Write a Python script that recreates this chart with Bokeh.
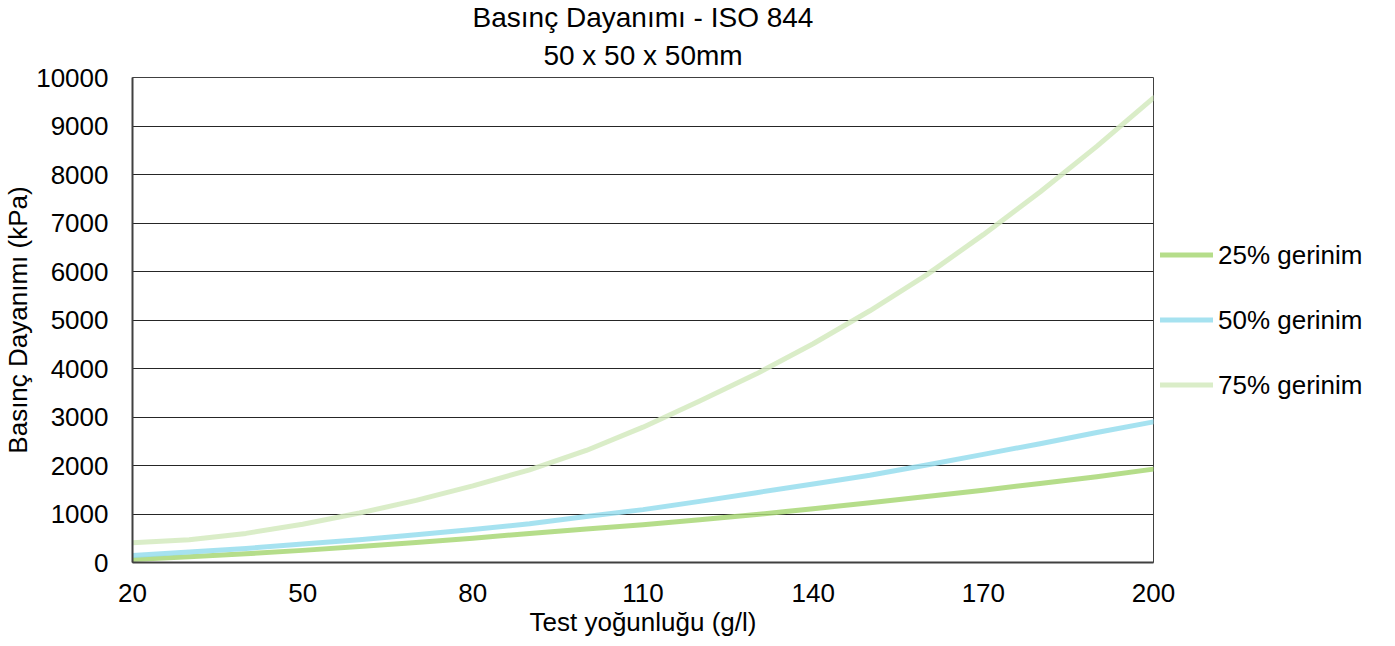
from bokeh.plotting import figure
from bokeh.models import FixedTicker, Legend, LegendItem, Title
from bokeh.embed import file_html
from bokeh.resources import INLINE

# ---- data ----
density = [20, 30, 40, 50, 60, 70, 80, 90, 100, 110, 120, 130, 140, 150, 160, 170, 180, 190, 200]
strain_25 = [60, 120, 180, 250, 330, 410, 500, 600, 690, 780, 880, 990, 1110, 1230, 1360, 1490, 1630, 1770, 1925]
strain_50 = [145, 215, 290, 380, 470, 570, 680, 800, 950, 1090, 1260, 1440, 1620, 1800, 2010, 2230, 2450, 2680, 2900]
strain_75 = [405, 470, 600, 790, 1020, 1280, 1580, 1910, 2310, 2790, 3330, 3890, 4510, 5190, 5930, 6760, 7640, 8580, 9580]
series_names = ["25% gerinim", "50% gerinim", "75% gerinim"]
x_ticks = [20, 50, 80, 110, 140, 170, 200]
y_ticks = [0, 1000, 2000, 3000, 4000, 5000, 6000, 7000, 8000, 9000, 10000]
title_lines = ["Basınç Dayanımı - ISO 844", "50 x 50 x 50mm"]
x_label = "Test yoğunluğu (g/l)"
y_label = "Basınç Dayanımı (kPa)"

colors = ["#a8d775", "#97dded", "#d3eabe"]
FONT = "Liberation Sans"

FW, FH = 1021, 485
p = figure(frame_width=FW, frame_height=FH, output_backend="svg", toolbar_location=None,
           x_range=(20, 200), y_range=(0, 10000),
           min_border_left=124, min_border_right=0, min_border_top=69, min_border_bottom=70)

p.background_fill_color = "white"
p.border_fill_color = "white"
p.outline_line_color = "#404040"
p.outline_line_width = 1

# titles (added nearest-to-plot first)
t2 = Title(text=title_lines[1], align="center", text_font=FONT, text_font_size="28px",
           text_font_style="normal", text_color="#000000", standoff=13)
t1 = Title(text=title_lines[0], align="center", text_font=FONT, text_font_size="28px",
           text_font_style="normal", text_color="#000000", standoff=-2)
p.add_layout(t2, "above")
p.add_layout(t1, "above")

# axes
p.xaxis.ticker = FixedTicker(ticks=x_ticks)
p.yaxis.ticker = FixedTicker(ticks=y_ticks)
for ax in (p.xaxis[0], p.yaxis[0]):
    ax.major_tick_line_color = None
    ax.minor_tick_line_color = None
    ax.axis_line_color = "#404040"
    ax.axis_line_width = 2
    ax.major_label_text_font = FONT
    ax.major_label_text_font_size = "26px"
    ax.major_label_text_color = "#000000"
    ax.axis_label_text_font = FONT
    ax.axis_label_text_font_size = "26px"
    ax.axis_label_text_font_style = "normal"
    ax.axis_label_text_color = "#000000"
p.xaxis.axis_label = x_label
p.yaxis.axis_label = y_label
p.xaxis.major_label_standoff = 15
p.xaxis.axis_label_standoff = 2
p.yaxis.major_label_standoff = 18
p.yaxis.axis_label_standoff = 0

p.xgrid.grid_line_color = None
p.ygrid.grid_line_color = "#262626"
p.ygrid.grid_line_width = 1

renderers = []
for ys, c in zip([strain_25, strain_50, strain_75], colors):
    r = p.line(density, ys, line_color=c, line_width=5, line_alpha=0.85, line_cap="round", line_join="round")
    renderers.append(r)

legend = Legend(items=[LegendItem(label=n, renderers=[r]) for n, r in zip(series_names, renderers)],
                location="center_left", orientation="vertical",
                margin=7, padding=0, spacing=34,
                glyph_width=53, glyph_height=30, label_height=30, label_standoff=5,
                label_text_font=FONT, label_text_font_size="26px", label_text_color="#000000",
                border_line_color=None, background_fill_alpha=0)
p.add_layout(legend, "right")

open("out.html", "w").write(file_html(p, INLINE))
